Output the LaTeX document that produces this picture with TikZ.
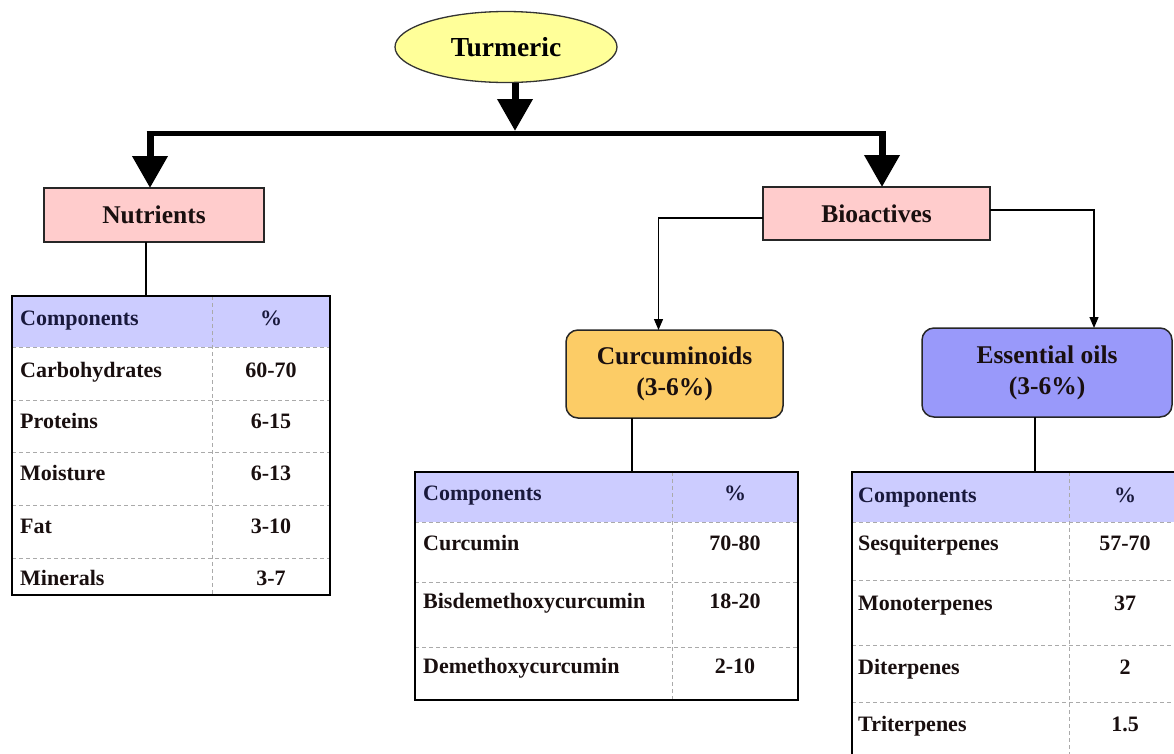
\documentclass[tikz,border=0pt]{standalone}
\usepackage{fontspec}
\setmainfont{Liberation Serif}
\usetikzlibrary{arrows.meta,calc,shapes.geometric}
\definecolor{turmfill}{RGB}{255,255,153}
\definecolor{pinkfill}{RGB}{255,204,204}
\definecolor{curfill}{RGB}{252,204,102}
\definecolor{eofill}{RGB}{153,153,250}
\definecolor{hdrfill}{RGB}{204,204,255}
\definecolor{gridgray}{RGB}{170,170,170}
\definecolor{hdrtext}{RGB}{25,25,60}
\definecolor{txt}{RGB}{25,15,15}
\begin{document}
\begin{tikzpicture}[x=1pt,y=-1pt,
  boxlbl/.style={font=\bfseries\fontsize{25.5}{31}\selectfont, text=txt, align=center,
    inner sep=0pt, outer sep=0pt, line width=1.5pt, draw=black!85},
  tframe/.style={draw=black, line width=2.2pt, inner sep=0pt, outer sep=0pt},
  thdr/.style={fill=hdrfill, inner sep=0pt, outer sep=0pt},
  tcell/.style={font=\bfseries\fontsize{22}{26}\selectfont, text=txt, inner sep=0pt, anchor=base west},
  tval/.style={font=\bfseries\fontsize{22}{26}\selectfont, text=txt, inner sep=0pt, anchor=base},
  hcell/.style={tcell, text=hdrtext},
  hval/.style={tval, text=hdrtext},
  gridline/.style={draw=gridgray, line width=1pt, dash pattern=on 4pt off 3pt},
  bigarrow/.style={line width=7pt, -{Triangle[width=34pt,length=32pt]}},
  thinarrow/.style={line width=1.3pt, -{Triangle[length=11pt,width=9pt]}},
  link/.style={line width=1.3pt}]
\clip (0,0) rectangle (1174,753);
\fill[white] (0,0) rectangle (1174,753);

% ---- top level
\node[ellipse, draw=black!80, line width=1.3pt, fill=turmfill, minimum width=222pt, minimum height=71pt,
  inner sep=0pt, font=\bfseries\fontsize{27.5}{32}\selectfont] (turm) at (506,47) {Turmeric};

\node[boxlbl, fill=pinkfill, minimum width=220pt, minimum height=54pt] (nut) at (154,215) {Nutrients};
\node[boxlbl, fill=pinkfill, minimum width=227pt, minimum height=53pt] (bio) at (876.5,213.5) {Bioactives};

\node[boxlbl, fill=curfill, rounded corners=12pt, minimum width=217pt, minimum height=88pt] (cur) at (674.5,374) {Curcuminoids\\(3-6\%)};
\node[boxlbl, fill=eofill, rounded corners=12pt, minimum width=250pt, minimum height=89pt] (eo) at (1047,372.5) {Essential oils\\(3-6\%)};

\coordinate (bm) at (515,131);
\coordinate (bl) at (150,133);
\coordinate (br) at (882,133);

\draw[bigarrow] ([xshift=9pt]turm.south) -- (bm);
\draw[line width=5pt] ([xshift=-3.5pt]bl) -- ([xshift=3.5pt]br);
\draw[bigarrow] (bl) -- (bl |- nut.north);
\draw[bigarrow] (br) -- (br |- bio.north);

\draw[thinarrow] ([yshift=-4.5pt]bio.west) -| ([xshift=-16pt]cur.north);
\draw[thinarrow] ([yshift=3.5pt]bio.east) -| ([xshift=47pt]eo.north);

% ---- Nutrients table
\node[thdr, minimum width=318pt, minimum height=51pt] (nhdr) at (171,321.5) {};
\foreach \yy in {347,400,452,505,558} \draw[gridline] (12,\yy) -- (330,\yy);
\draw[gridline] (212,296) -- (212,595);
\node[tframe, minimum width=318pt, minimum height=299pt] (ntab) at (171,445.5) {};
\draw[link] ([xshift=-8pt]nut.south) -- ([xshift=-8pt]nut.south |- ntab.north);
\node[hcell] (n1a) at (20,325) {Components};   \node[hval] (n1b) at (271,325) {\%};
\node[tcell] (n2a) at (20,377) {Carbohydrates}; \node[tval] (n2b) at (271,377) {60-70};
\node[tcell] (n3a) at (20,428) {Proteins};      \node[tval] (n3b) at (271,428) {6-15};
\node[tcell] (n4a) at (20,480) {Moisture};      \node[tval] (n4b) at (271,480) {6-13};
\node[tcell] (n5a) at (20,533) {Fat};           \node[tval] (n5b) at (271,533) {3-10};
\node[tcell] (n6a) at (20,585) {Minerals};      \node[tval] (n6b) at (271,585) {3-7};

% ---- Curcuminoids table
\node[thdr, minimum width=383pt, minimum height=50pt] (chdr) at (606.5,497) {};
\foreach \yy in {522,582,647} \draw[gridline] (415,\yy) -- (798,\yy);
\draw[gridline] (672,472) -- (672,700);
\node[tframe, minimum width=383pt, minimum height=228pt] (ctab) at (606.5,586) {};
\draw[link] ([xshift=-42.5pt]cur.south) -- ([xshift=-42.5pt]cur.south |- ctab.north);
\node[hcell] (c1a) at (423,500) {Components};          \node[hval] (c1b) at (735,500) {\%};
\node[tcell] (c2a) at (423,550) {Curcumin};            \node[tval] (c2b) at (735,550) {70-80};
\node[tcell] (c3a) at (423,608) {Bisdemethoxycurcumin};\node[tval] (c3b) at (735,608) {18-20};
\node[tcell] (c4a) at (423,673) {Demethoxycurcumin};   \node[tval] (c4b) at (735,673) {2-10};

% ---- Essential oils table
\node[thdr, minimum width=333pt, minimum height=50pt] (ehdr) at (1018.5,497) {};
\foreach \yy in {522,580,645,702} \draw[gridline] (852,\yy) -- (1185,\yy);
\draw[gridline] (1069,472) -- (1069,760);
\node[tframe, line width=2.6pt, minimum width=333pt, minimum height=328pt] (etab) at (1018.5,636) {};
\draw[link] ([xshift=-12pt]eo.south) -- ([xshift=-12pt]eo.south |- etab.north);
\node[hcell] (e1a) at (858,502) {Components};     \node[hval] (e1b) at (1125,502) {\%};
\node[tcell] (e2a) at (858,550) {Sesquiterpenes}; \node[tval] (e2b) at (1125,550) {57-70};
\node[tcell] (e3a) at (858,610) {Monoterpenes};   \node[tval] (e3b) at (1125,610) {37};
\node[tcell] (e4a) at (858,674) {Diterpenes};     \node[tval] (e4b) at (1125,674) {2};
\node[tcell] (e5a) at (858,731) {Triterpenes};    \node[tval] (e5b) at (1125,731) {1.5};
\end{tikzpicture}
\end{document}
